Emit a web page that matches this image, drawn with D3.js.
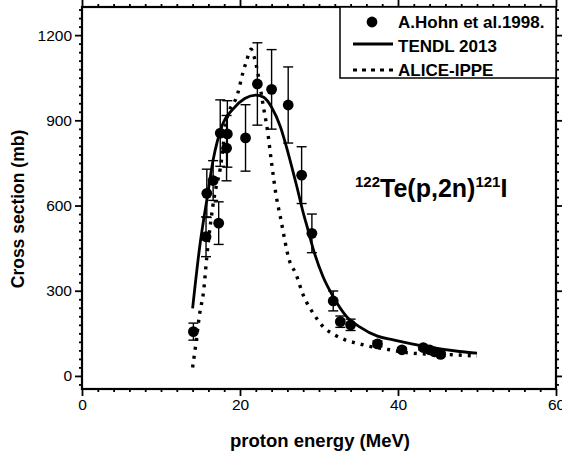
<!DOCTYPE html>
<html>
<head>
<meta charset="utf-8">
<script src="https://cdn.jsdelivr.net/npm/d3@7"></script>
<style>
  body { margin: 0; background: #fff; }
  text { font-family: "Liberation Sans", Arial, sans-serif; fill: #000; }
</style>
</head>
<body>
<div id="chart"></div>
<script>
// measured points (A.Hohn et al. 1998): energy, cross section, error
var hohnE   = [14.1, 15.7, 15.8, 16.6, 17.3, 17.5, 18.4, 18.3, 20.7, 22.2, 24.0, 26.1, 27.8, 29.1, 31.8, 32.7, 34.0, 37.4, 40.5, 43.2, 44.0, 44.6, 45.4];
var hohnXS  = [156, 490, 643, 688, 538, 855, 852, 802, 838, 1028, 1009, 954, 707, 502, 264, 191, 180, 113, 92, 100, 92, 85, 76];
var hohnErr = [30, 70, 85, 70, 75, 117, 117, 115, 117, 145, 140, 134, 100, 68, 35, 20, 20, 10, 8, 8, 8, 8, 8];

// TENDL 2013 curve
var tendlE  = [14.0, 14.9, 15.8, 16.6, 17.7, 19.2, 20.6, 22.0, 23.0, 24.0, 25.1, 26.1, 27.2, 28.0, 28.6, 29.3, 30.5, 31.8, 33.5, 35.2, 37.4, 39.4, 43.6, 47.8, 50.0];
var tendlXS = [238, 455, 620, 760, 878, 942, 977, 989, 981, 946, 878, 784, 666, 575, 515, 444, 350, 279, 209, 172, 140, 127, 103, 86, 80];

// ALICE-IPPE curve
var aliceE  = [14.0, 14.4, 14.9, 15.4, 15.8, 16.8, 17.5, 18.3, 19.7, 20.4, 20.8, 21.4, 22.0, 23.0, 23.5, 24.0, 24.6, 25.1, 26.3, 27.0, 28.0, 29.5, 30.5, 32.0, 33.3, 34.8, 36.1, 39.0, 41.7, 47.4, 50.0];
var aliceXS = [30, 110, 220, 300, 420, 640, 730, 900, 993, 1071, 1107, 1150, 1100, 942, 860, 749, 631, 561, 402, 364, 285, 211, 174, 144, 127, 115, 106, 92, 80, 74, 70];

var xTicks = [0, 20, 40, 60];
var yTicks = [0, 300, 600, 900, 1200];

var W = 562, H = 453;
var pL = 82, pR = 556, pT = 7, pB = 389;

var svg = d3.select("#chart").append("svg")
  .attr("width", W).attr("height", H);

var x = d3.scaleLinear().domain([0, 60]).range([pL, pR]);
var y = d3.scaleLinear().domain([-46, 1299]).range([pB, pT]);

var xMinor = d3.range(0, 61, 2).filter(function(v){ return xTicks.indexOf(v) < 0; });
var yMinor = d3.range(-30, 1299, 30).filter(function(v){ return yTicks.indexOf(v) < 0; });

function drawAxis(axisFn, scale, ticks, minor, tr, labels) {
  var g = svg.append("g").attr("transform", tr);
  g.call(axisFn(scale).tickValues(minor).tickSize(3).tickFormat(""))
    .select(".domain").remove();
  var g2 = svg.append("g").attr("transform", tr);
  g2.call(axisFn(scale).tickValues(ticks).tickSize(7).tickSizeOuter(0)
      .tickFormat(labels ? d3.format("d") : ""))
    .select(".domain").remove();
  g2.selectAll("text").style("font-size", "15.5px").attr("font-family", "Liberation Sans, Arial");
  svg.selectAll(".tick line").attr("stroke", "#000").attr("stroke-width", 1.8);
}

drawAxis(d3.axisBottom, x, xTicks, xMinor, "translate(0," + pB + ")", true);
drawAxis(d3.axisTop, x, xTicks, xMinor, "translate(0," + pT + ")", false);
drawAxis(d3.axisLeft, y, yTicks, yMinor, "translate(" + pL + ",0)", true);
drawAxis(d3.axisRight, y, yTicks, yMinor, "translate(" + pR + ",0)", false);

// frame
svg.append("rect")
  .attr("x", pL).attr("y", pT)
  .attr("width", pR - pL).attr("height", pB - pT)
  .attr("fill", "none").attr("stroke", "#000").attr("stroke-width", 2.2);

// curves
var line = d3.line()
  .x(function(d){ return x(d[0]); })
  .y(function(d){ return y(d[1]); })
  .curve(d3.curveMonotoneX);

svg.append("path")
  .datum(d3.zip(aliceE, aliceXS))
  .attr("d", line)
  .attr("fill", "none").attr("stroke", "#000")
  .attr("stroke-width", 3.4).attr("stroke-dasharray", "3,6");

svg.append("path")
  .datum(d3.zip(tendlE, tendlXS))
  .attr("d", line)
  .attr("fill", "none").attr("stroke", "#000")
  .attr("stroke-width", 2.8);

// error bars + points
var pts = d3.zip(hohnE, hohnXS, hohnErr);
var eb = svg.append("g").attr("stroke", "#000").attr("stroke-width", 1.4);
pts.forEach(function(d) {
  var cx = x(d[0]), y1 = y(d[1] + d[2]), y2 = y(d[1] - d[2]);
  eb.append("line").attr("x1", cx).attr("x2", cx).attr("y1", y1).attr("y2", y2);
  eb.append("line").attr("x1", cx - 5).attr("x2", cx + 5).attr("y1", y1).attr("y2", y1);
  eb.append("line").attr("x1", cx - 5).attr("x2", cx + 5).attr("y1", y2).attr("y2", y2);
});
svg.append("g").selectAll("circle")
  .data(pts).enter().append("circle")
  .attr("cx", function(d){ return x(d[0]); })
  .attr("cy", function(d){ return y(d[1]); })
  .attr("r", 5.4)
  .attr("fill", "#000");

// legend
svg.append("rect")
  .attr("x", 340).attr("y", pT).attr("width", pR - 340).attr("height", 71)
  .attr("fill", "#fff").attr("stroke", "#000").attr("stroke-width", 1.5);
svg.append("circle").attr("cx", 372).attr("cy", 22).attr("r", 5.4).attr("fill", "#000");
svg.append("line").attr("x1", 353).attr("x2", 393).attr("y1", 44).attr("y2", 44)
  .attr("stroke", "#000").attr("stroke-width", 2.8);
svg.append("line").attr("x1", 353).attr("x2", 393).attr("y1", 70).attr("y2", 70)
  .attr("stroke", "#000").attr("stroke-width", 3).attr("stroke-dasharray", "4,5");
var legNames = ["A.Hohn et al.1998.", "TENDL 2013", "ALICE-IPPE"];
svg.selectAll(".leg").data(legNames).enter().append("text")
  .attr("x", 398)
  .attr("y", function(d, i){ return 28 + i * 24; })
  .style("font-size", "17px").style("font-weight", "bold")
  .text(function(d){ return d; });

// reaction label
var rx = svg.append("text").attr("x", 355).attr("y", 197)
  .style("font-weight", "bold").style("font-size", "25px");
rx.append("tspan").attr("dy", -10).style("font-size", "15px").text("122");
rx.append("tspan").attr("dy", 10).text("Te(p,2n)");
rx.append("tspan").attr("dy", -10).style("font-size", "15px").text("121");
rx.append("tspan").attr("dy", 10).text("I");

// axis titles
svg.append("text")
  .attr("transform", "translate(24,209) rotate(-90)")
  .attr("text-anchor", "middle")
  .style("font-size", "17.5px").style("font-weight", "bold")
  .text("Cross section (mb)");
svg.append("text")
  .attr("x", 320).attr("y", 447)
  .attr("text-anchor", "middle")
  .style("font-size", "18.5px").style("font-weight", "bold")
  .text("proton energy (MeV)");
</script>
</body>
</html>
